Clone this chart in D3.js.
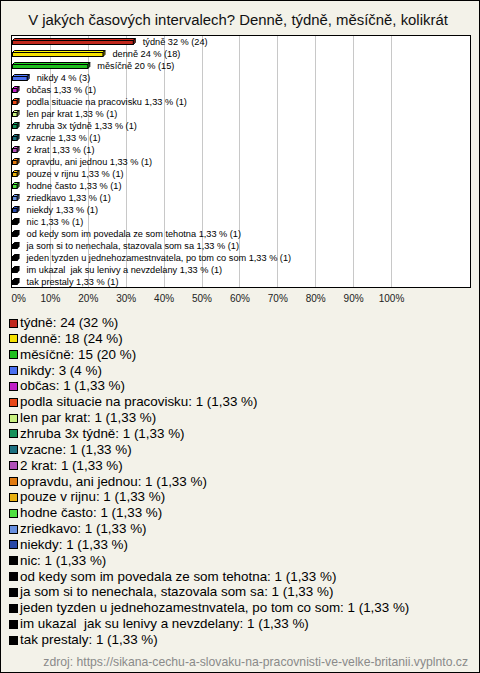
<!DOCTYPE html>
<html><head><meta charset="utf-8">
<script src="https://cdn.jsdelivr.net/npm/d3@7"></script>
<style>html,body{margin:0;padding:0;background:#fff;}svg{display:block;font-family:Arial,"Liberation Sans",sans-serif;}text{white-space:pre;}</style>
</head><body>
<script>
const title = "V jakých časových intervalech? Denně, týdně, měsíčně, kolikrát";
const categories = ["týdně","denně","měsíčně","nikdy","občas","podla situacie na pracovisku","len par krat","zhruba 3x týdně","vzacne","2 krat","opravdu, ani jednou","pouze v rijnu","hodne často","zriedkavo","niekdy","nic","od kedy som im povedala ze som tehotna","ja som si to nenechala, stazovala som sa","jeden tyzden u jednehozamestnvatela, po tom co som","im ukazal  jak su lenivy a nevzdelany","tak prestaly"];
const counts = [24,18,15,3,1,1,1,1,1,1,1,1,1,1,1,1,1,1,1,1,1];
const percents = [32,24,20,4,1.33,1.33,1.33,1.33,1.33,1.33,1.33,1.33,1.33,1.33,1.33,1.33,1.33,1.33,1.33,1.33,1.33];
const colors = ["#c0281c","#f5e100","#1fbf1f","#4a6ff0","#c020c8","#e84818","#c8f080","#16915a","#1c7080","#b050b8","#e07a10","#e8b010","#50e040","#6890e0","#2848a8","#000000","#000000","#000000","#000000","#000000","#000000"];
const tickValues = [0,10,20,30,40,50,60,70,80,90,100];
const source = "zdroj: https://sikana-cechu-a-slovaku-na-pracovnisti-ve-velke-britanii.vyplnto.cz";

const W = 480, H = 673;
const svg = d3.select("body").append("svg").attr("width", W).attr("height", H);
svg.append("rect").attr("x",0.5).attr("y",0.5).attr("width",W-1).attr("height",H-1)
  .attr("fill","#f3f2e9").attr("stroke","#000");

svg.append("text").attr("x",238).attr("y",25).attr("text-anchor","middle")
  .attr("font-size",14.9).attr("fill","#111").text(title);

const plot = {x0:11.5, y0:35.5, x1:470.5, y1:287.5};
const x = d3.scaleLinear().domain([0,100]).range([12,391]);
const y = d3.scaleBand().domain(categories).range([35,287]);

svg.append("rect").attr("x",plot.x0).attr("y",plot.y0).attr("width",plot.x1-plot.x0).attr("height",plot.y1-plot.y0)
  .attr("fill","#fff");
svg.append("g").selectAll("line").data(tickValues.filter(d=>d>0)).join("line")
  .attr("x1",d=>Math.round(x(d))+0.5).attr("x2",d=>Math.round(x(d))+0.5)
  .attr("y1",plot.y0).attr("y2",plot.y1).attr("stroke","#c8c8c8");

const axisG = svg.append("g").attr("transform","translate(0,292)")
  .call(d3.axisBottom(x).tickValues(tickValues).tickFormat(d=>d+"%").tickSize(0));
axisG.select(".domain").remove();
axisG.selectAll("text").attr("font-size",10).attr("fill","#222").attr("font-family","Arial, 'Liberation Sans', sans-serif")
  .attr("dy","0.71em");
axisG.selectAll(".tick").filter(d=>d===0).select("text").attr("text-anchor","start").attr("x",-1);

const dx = 2, dy = 2, bh = 4;
const bars = svg.append("g");
categories.forEach((c,i)=>{
  const yc = y(c) + y.bandwidth()/2;
  const x0 = x(0)+0.5, x1 = Math.max(x(percents[i]), x0+4);
  const top = Math.round(yc - bh/2 + 1) + 0.5, bot = top + bh;
  const col = d3.color(colors[i]);
  const g = bars.append("g");
  g.append("path").attr("d",`M${x0},${top}L${x0+dx},${top-dy}L${x1+dx},${top-dy}L${x1},${top}Z`)
    .attr("fill",col.brighter(0.3)).attr("stroke","#000").attr("stroke-width",1);
  g.append("path").attr("d",`M${x1},${top}L${x1+dx},${top-dy}L${x1+dx},${bot-dy}L${x1},${bot}Z`)
    .attr("fill",col.darker(0.8)).attr("stroke","#000").attr("stroke-width",1);
  g.append("rect").attr("x",x0).attr("y",top).attr("width",x1-x0).attr("height",bh)
    .attr("fill",col).attr("stroke","#000").attr("stroke-width",1);
  g.append("text").attr("x",x1+dx+7.5).attr("y",yc+3.5).attr("font-size",9.2).attr("fill","#000")
    .text(`${c} ${String(percents[i]).replace(".",",")} % (${counts[i]})`);
});
svg.append("rect").attr("x",plot.x0).attr("y",plot.y0).attr("width",plot.x1-plot.x0).attr("height",plot.y1-plot.y0)
  .attr("fill","none").attr("stroke","#000");

const ly = d3.scaleLinear().domain([0,categories.length-1]).range([322.5,639.5]);
const leg = svg.append("g");
categories.forEach((c,i)=>{
  const yc = ly(i);
  leg.append("rect").attr("x",9.5).attr("y",Math.round(yc-4)+0.5).attr("width",8).attr("height",8)
    .attr("fill",colors[i]).attr("stroke","#000");
  leg.append("text").attr("x",20).attr("y",yc+4.5).attr("font-size",13.4).attr("fill","#000")
    .text(`${c}: ${counts[i]} (${String(percents[i]).replace(".",",")} %)`);
});

svg.append("text").attr("x",468).attr("y",666).attr("text-anchor","end").attr("font-size",12.2)
  .attr("fill","#8a8a8a").text(source);
</script>
</body></html>
